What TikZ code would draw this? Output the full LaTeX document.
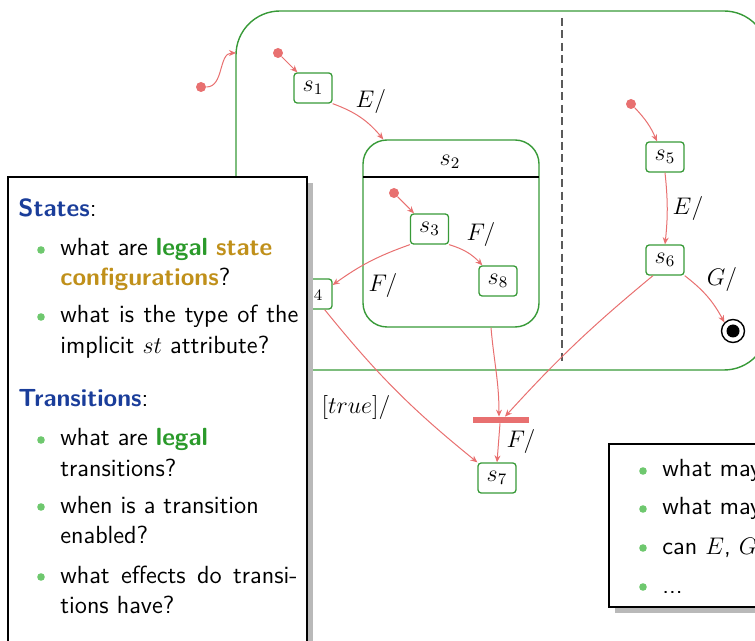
\documentclass[tikz,border=0pt]{standalone}
\usetikzlibrary{arrows.meta}
\definecolor{sred}{RGB}{232,112,112}
\definecolor{sgreen}{RGB}{56,154,56}
\definecolor{lgreen}{RGB}{42,154,42}
\definecolor{sgold}{RGB}{192,144,26}
\definecolor{sblue}{RGB}{26,61,154}
\definecolor{bgreen}{RGB}{110,200,110}
\definecolor{shgray}{RGB}{185,185,185}
\definecolor{dgray}{RGB}{90,90,90}
\begin{document}
\begin{tikzpicture}[x=0.5pt,y=-0.5pt,
  bigstate/.style={draw=sgreen, line width=0.7pt, rounded corners=22pt, inner sep=0},
  state/.style={draw=sgreen, line width=0.65pt, rounded corners=1.6pt, minimum width=19pt, minimum height=15pt, inner sep=0, fill=white, font=\fontsize{12}{14}\selectfont},
  comp/.style={draw=sgreen, line width=0.7pt, rounded corners=12pt, inner sep=0},
  init/.style={circle, fill=sred, inner sep=0, minimum size=5pt},
  tr/.style={draw=sred, line width=0.5pt, -{Stealth[length=3.5pt,width=3pt]}},
  lbl/.style={inner sep=0, font=\fontsize{12}{14}\selectfont},
  txt/.style={anchor=base west, inner sep=0, font=\sffamily\fontsize{12.4}{15}\selectfont},
  bul/.style={circle, fill=bgreen, inner sep=0, minimum size=3.8pt},
]
\useasboundingbox (0,0) rectangle (755,641);
\clip (0,0) rectangle (755,641);

% outer state
\node[bigstate, minimum width=266pt, minimum height=179.5pt] (outer) at (502,190.5) {};
\draw[dgray, line width=0.65pt, dash pattern=on 4pt off 2.2pt] (562,18) -- (562,363);

% composite s2
\node[comp, minimum width=88pt, minimum height=93.5pt] (s2) at (451,233.5) {};
\node[lbl] (s2l) at (450,162) {$s_2$};
\coordinate (h2a) at (363,177);
\coordinate (h2b) at (539,177);
\draw[black, line width=0.9pt] (h2a) -- (h2b);

% states
\node[state] (s1) at (313,88) {$s_1$};
\node[state] (s3) at (429.5,229) {$s_3$};
\node[state] (s8) at (498,281) {$s_8$};
\node[state] (s4) at (313,294) {$s_4$};
\node[state] (s5) at (665,157) {$s_5$};
\node[state] (s6) at (665,260) {$s_6$};
\node[state] (s7) at (497,478) {$s_7$};

% initial dots
\node[init] (i0) at (201,87) {};
\node[init] (i1) at (278,53) {};
\node[init] (i2) at (394,193) {};
\node[init] (i3) at (631,104) {};
\coordinate (e0) at (236,53);

% join bar
\node[fill=sred, minimum width=28pt, minimum height=3pt, inner sep=0] (bar) at (501,420) {};

% final state
\node[circle, draw=black, line width=0.7pt, minimum size=11.5pt, inner sep=0] (fin) at (733,331) {};
\node[circle, fill=black, minimum size=6.5pt, inner sep=0] (fini) at (fin) {};

% transitions
\draw[tr] (i0) to[out=0,in=180] (e0);
\draw[tr] (i1) -- (s1);
\draw[tr] (s1.south east) to[bend left=15] ([xshift=10.5pt]s2.north west);
\draw[tr] (i2) -- (s3);
\draw[tr] (s3.south east) to[bend left=15] ([xshift=2pt]s8.north west);
\draw[tr] (s3.south west) to[bend right=8] ([yshift=4.5pt]s4.east);
\draw[tr] ([xshift=-4pt]s4.south east) to[bend right=6] (s7.north west);
\draw[tr] ([xshift=20pt]s2.south) to[out=-85,in=90] ([xshift=-1pt]bar.north);
\draw[tr] ([xshift=-6pt]s6.south) to[bend right=4] ([xshift=2pt]bar.north);
\draw[tr] ([xshift=-0.5pt]bar.south) -- (s7.north);
\draw[tr] (i3) to[bend left=10] ([xshift=-4pt]s5.north);
\draw[tr] (s5.south) to[bend left=6] (s6.north);
\draw[tr] (s6.south east) to[bend left=12] (fin.north west);

% labels
\node[lbl] (lE1) at (371,102) {$E/$};
\node[lbl] (lF1) at (481,235) {$F/$};
\node[lbl] (lF2) at (383,286) {$F/$};
\node[lbl] (lT) at (356,408) {$[true]/$};
\node[lbl] (lF3) at (521,442) {$F/$};
\node[lbl] (lE2) at (688,209) {$E/$};
\node[lbl] (lG) at (722,280) {$G/$};

% left overlay box
\fill[shgray] (14,183) rectangle (313,700);
\draw[black, line width=0.6pt, fill=white] (8,177) rectangle (307,700);
\node[txt] (t1) at (18,217) {\textbf{\color{sblue}States}:};
\node[bul] (b1) at (41,250) {};
\node[txt] (t1a) at (60,256) {what are \textbf{\color{lgreen}legal} \textbf{\color{sgold}state}};
\node[txt] (t1b) at (60,286) {\textbf{\color{sgold}configurations}?};
\node[bul] (b2) at (41,317) {};
\node[txt] (t2a) at (60,323) {\makebox[119pt][s]{what is the type of the}};
\node[txt] (t2b) at (60,354) {implicit $st$ attribute?};
\node[txt] (t3) at (18,407) {\textbf{\color{sblue}Transitions}:};
\node[bul] (b3) at (41,440) {};
\node[txt] (t3a) at (60,446) {what are \textbf{\color{lgreen}legal}};
\node[txt] (t3b) at (60,477) {transitions?};
\node[bul] (b4) at (41,507) {};
\node[txt] (t4a) at (60,513) {when is a transition};
\node[txt] (t4b) at (60,543) {enabled?};
\node[bul] (b5) at (41,577) {};
\node[txt] (t5a) at (60,583) {\makebox[118.5pt][s]{what effects do transi-}};
\node[txt] (t5b) at (60,613) {tions have?};

% right overlay box
\fill[shgray] (615,450) rectangle (800,613);
\draw[black, line width=0.6pt, fill=white] (609,444) rectangle (800,607);
\node[bul] (r1) at (643,471) {};
\node[txt] (u1) at (662,477) {what may};
\node[bul] (r2) at (643,509) {};
\node[txt] (u2) at (662,515) {what may};
\node[bul] (r3) at (643,548) {};
\node[txt] (u3) at (662,554) {can $E$, $G$};
\node[bul] (r4) at (643,587) {};
\node[txt] (u4) at (662,593) {...};
\end{tikzpicture}
\end{document}
